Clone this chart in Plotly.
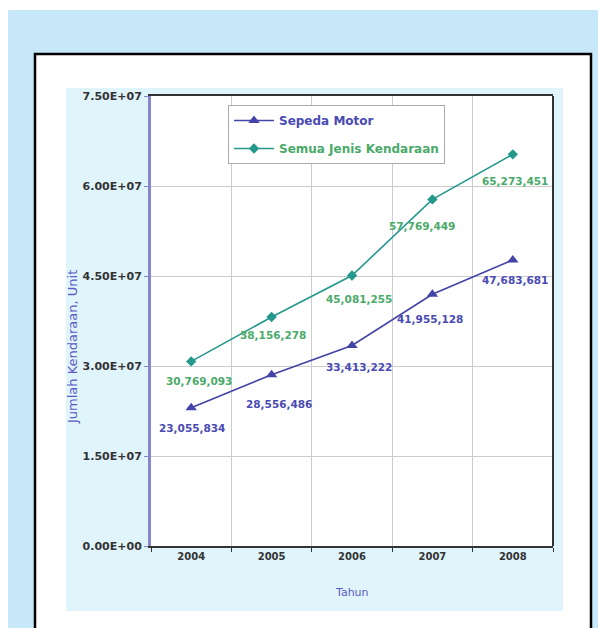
import plotly.graph_objects as go

# ---- data ----
years = ["2004", "2005", "2006", "2007", "2008"]
sepeda_motor = [23055834, 28556486, 33413222, 41955128, 47683681]
semua_kendaraan = [30769093, 38156278, 45081255, 57769449, 65273451]
y_tickvals = [0, 15000000, 30000000, 45000000, 60000000, 75000000]
y_ticktext = ["0.00E+00", "1.50E+07", "3.00E+07", "4.50E+07", "6.00E+07", "7.50E+07"]
series_names = ["Sepeda Motor", "Semua Jenis Kendaraan"]
x_title = "Tahun"
y_title = "Jumlah Kendaraan, Unit"

# ---- style ----
W, H = 598, 628
L, R, T, B = 151, 553, 96, 546  # plot area in pixels
FONT = "DejaVu Sans"
motor_line = "#4343a8"
motor_text = "#4a4ab4"
semua_line = "#25988c"
semua_text = "#4aaa6a"

def px(x):
    return (x - L) / (R - L)

def py(y):
    return (B - y) / (B - T)

fig = go.Figure()
fig.add_trace(go.Scatter(
    x=years, y=sepeda_motor, mode="lines+markers",
    name=f"<b><span style='color:{motor_text}'>{series_names[0]}</span></b>",
    line=dict(color=motor_line, width=1.6),
    marker=dict(symbol="triangle-up", size=10, color=motor_line),
    legendgroup="a",
))
fig.add_trace(go.Scatter(
    x=years, y=semua_kendaraan, mode="lines+markers",
    name=f"<b><span style='color:{semua_text}'>{series_names[1]}</span></b>",
    line=dict(color=semua_line, width=1.6),
    marker=dict(symbol="diamond", size=8, color=semua_line),
    legendgroup="b",
))

motor_shift = [(1, -20), (7, -29), (7, -21), (-2, -25), (2, -20)]
semua_shift = [(8, -20), (1, -18), (7, -23), (-10, -27), (2, -27)]
for i, yr in enumerate(years):
    fig.add_annotation(x=i, y=sepeda_motor[i], text=f"<b>{sepeda_motor[i]:,}</b>",
                       showarrow=False, xshift=motor_shift[i][0], yshift=motor_shift[i][1],
                       font=dict(family=FONT, size=10.5, color=motor_text))
    fig.add_annotation(x=i, y=semua_kendaraan[i], text=f"<b>{semua_kendaraan[i]:,}</b>",
                       showarrow=False, xshift=semua_shift[i][0], yshift=semua_shift[i][1],
                       font=dict(family=FONT, size=10.5, color=semua_text))

# axis titles
fig.add_annotation(xref="paper", yref="paper", x=px(352), y=py(592), text=x_title,
                   xanchor="center", yanchor="middle",
                   showarrow=False, font=dict(family=FONT, size=11, color="#5a5ac4"))
fig.add_annotation(xref="paper", yref="paper", x=px(72), y=py(347), text=y_title,
                   xanchor="center", yanchor="middle",
                   textangle=-90, showarrow=False,
                   font=dict(family=FONT, size=13, color="#5a5ac4"))

shapes = [
    dict(type="rect", xref="paper", yref="paper", x0=px(8), x1=px(600), y0=py(10), y1=py(640),
         fillcolor="#c7e8f8", line=dict(width=0), layer="below"),
    dict(type="rect", xref="paper", yref="paper", x0=px(35), x1=px(591), y0=py(54), y1=py(640),
         fillcolor="white", line=dict(color="black", width=2.5), layer="below"),
    dict(type="rect", xref="paper", yref="paper", x0=px(66), x1=px(563), y0=py(88), y1=py(611),
         fillcolor="#e0f4fc", line=dict(width=0), layer="below"),
    dict(type="rect", xref="paper", yref="paper", x0=0, x1=1, y0=0, y1=1,
         fillcolor="white", line=dict(width=0), layer="below"),
    dict(type="line", xref="paper", yref="paper", x0=1, x1=1, y0=0, y1=1,
         line=dict(color="#333333", width=2), layer="above"),
]
fig.update_layout(shapes=shapes)

fig.update_layout(
    width=W, height=H,
    margin=dict(l=L, r=W - R, t=T, b=H - B),
    paper_bgcolor="white",
    plot_bgcolor="rgba(0,0,0,0)",
    font=dict(family=FONT, size=10, color="#333333"),
    showlegend=True,
    legend=dict(x=px(228), y=py(105), xanchor="left", yanchor="top",
                bgcolor="white", bordercolor="#aaaaaa", borderwidth=1,
                font=dict(family=FONT, size=12, color="#333"),
                itemwidth=40,
                traceorder="grouped", tracegroupgap=9),
    xaxis=dict(type="category", categoryorder="array", categoryarray=years,
               range=[-0.5, len(years) - 0.5], autorange=False,
               showgrid=True, gridcolor="#cccccc", gridwidth=1, tickson="boundaries",
               showline=True, linecolor="#333333", linewidth=2, mirror=True,
               ticks="outside", ticklen=4, tickcolor="#333333", tickangle=0,
               tickfont=dict(family=FONT, size=10, color="#333333"),
               tickprefix="<b>", ticksuffix="</b>", zeroline=False),
    yaxis=dict(range=[0, 75000000], autorange=False, tickvals=y_tickvals,
               ticktext=[f"<b>{t}</b>" for t in y_ticktext],
               showgrid=True, gridcolor="#cccccc", gridwidth=1,
               showline=True, linecolor="#8686cc", linewidth=3,
               ticks="outside", ticklen=4, tickcolor="#8686cc",
               tickfont=dict(family=FONT, size=11, color="#333333"), zeroline=False),
)

fig.write_html("out.html")
